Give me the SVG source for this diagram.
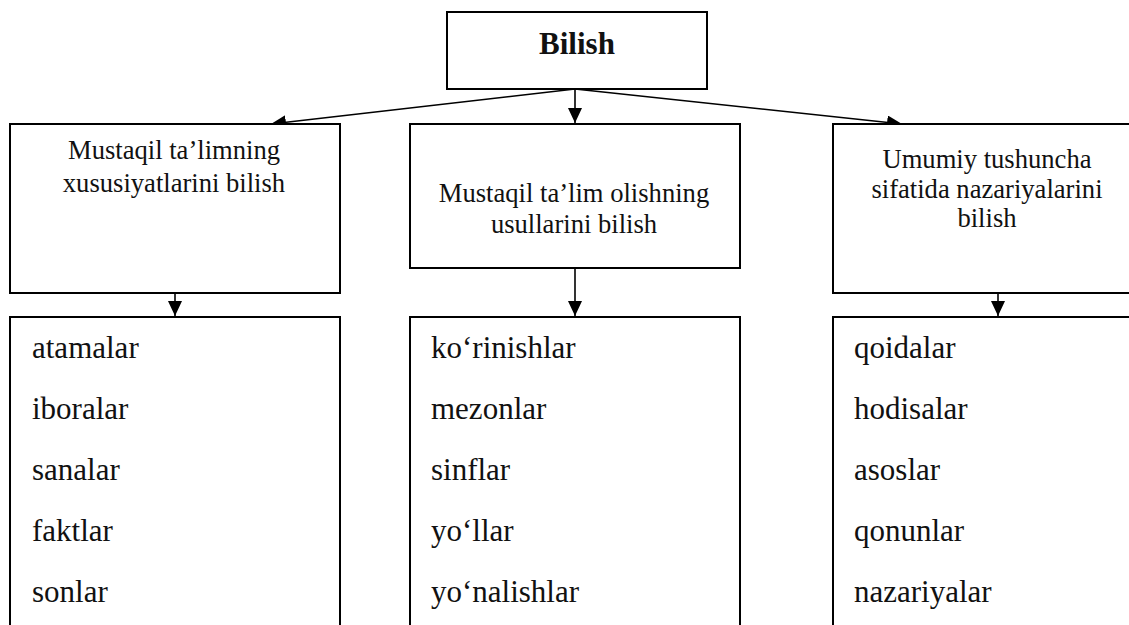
<svg xmlns="http://www.w3.org/2000/svg" width="1129" height="625" viewBox="0 0 1129 625">
<style>
.box{fill:#fff;stroke:#000;stroke-width:2}
.t{font-family:"Liberation Serif","Times New Roman",serif;fill:#111}
.lbl{font-size:26.6px;text-anchor:middle}
.item{font-size:31px}
.title{font-size:31px;font-weight:bold;text-anchor:middle}
.conn{stroke:#000;stroke-width:1.6;fill:none;marker-end:url(#ah)}
</style>
<defs>
<marker id="ah" markerUnits="userSpaceOnUse" markerWidth="15" markerHeight="14" refX="15" refY="7" orient="auto">
<path d="M0,0 L15,7 L0,14 z" fill="#000"/>
</marker>
</defs>
<rect width="1129" height="625" fill="#fff"/>
<g id="connectors">
<line class="conn" x1="575" y1="89" x2="575" y2="123"/>
<line class="conn" x1="575" y1="89" x2="271" y2="124"/>
<line class="conn" x1="575" y1="89" x2="902" y2="124"/>
<line class="conn" x1="175" y1="293" x2="175" y2="316"/>
<line class="conn" x1="575" y1="268" x2="575" y2="316"/>
<line class="conn" x1="998" y1="293" x2="998" y2="316"/>
</g>
<g id="bilish">
<rect class="box" x="447" y="12" width="260" height="77"/>
<text class="t title" x="577" y="54">Bilish</text>
</g>
<g id="xususiyat">
<rect class="box" x="10" y="124" width="330" height="169"/>
<text class="t lbl" x="174" y="159">Mustaqil ta’limning</text>
<text class="t lbl" x="174" y="192">xususiyatlarini bilish</text>
</g>
<g id="usullar">
<rect class="box" x="410" y="124" width="330" height="144"/>
<text class="t lbl" x="574" y="202">Mustaqil ta’lim olishning</text>
<text class="t lbl" x="574" y="233">usullarini bilish</text>
</g>
<g id="nazariya">
<rect class="box" x="833" y="124" width="330" height="169"/>
<text class="t lbl" x="987" y="168">Umumiy tushuncha</text>
<text class="t lbl" x="987" y="198">sifatida nazariyalarini</text>
<text class="t lbl" x="987" y="227">bilish</text>
</g>
<g id="list1">
<rect class="box" x="10" y="317" width="330" height="330"/>
<text class="t item" x="32" y="358">atamalar</text>
<text class="t item" x="32" y="419">iboralar</text>
<text class="t item" x="32" y="480">sanalar</text>
<text class="t item" x="32" y="541">faktlar</text>
<text class="t item" x="32" y="602">sonlar</text>
</g>
<g id="list2">
<rect class="box" x="410" y="317" width="330" height="330"/>
<text class="t item" x="431" y="358">ko‘rinishlar</text>
<text class="t item" x="431" y="419">mezonlar</text>
<text class="t item" x="431" y="480">sinflar</text>
<text class="t item" x="431" y="541">yo‘llar</text>
<text class="t item" x="431" y="602">yo‘nalishlar</text>
</g>
<g id="list3">
<rect class="box" x="833" y="317" width="330" height="330"/>
<text class="t item" x="854" y="358">qoidalar</text>
<text class="t item" x="854" y="419">hodisalar</text>
<text class="t item" x="854" y="480">asoslar</text>
<text class="t item" x="854" y="541">qonunlar</text>
<text class="t item" x="854" y="602">nazariyalar</text>
</g>
</svg>
